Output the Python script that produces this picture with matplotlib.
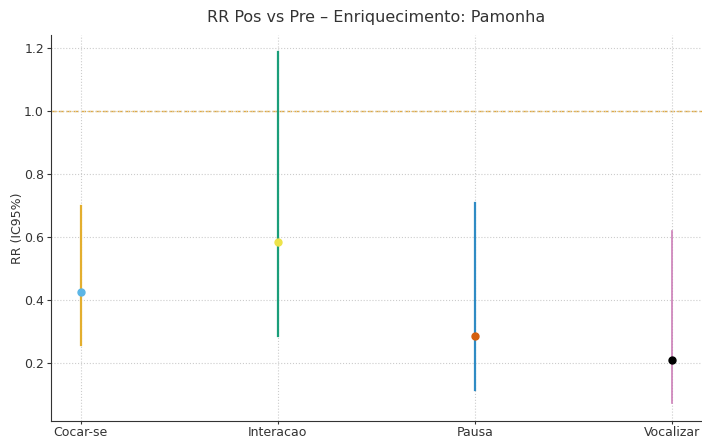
import matplotlib.pyplot as plt

# RR (IC95%) por comportamento
behaviors = ["Cocar-se", "Interacao", "Pausa", "Vocalizar"]
rr = [0.425, 0.584, 0.286, 0.210]
ci_low = [0.257, 0.287, 0.115, 0.073]
ci_high = [0.698, 1.187, 0.709, 0.620]

line_colors = ["#E3AE2E", "#1A9E7A", "#2F8BC4", "#CC7FB8"]
point_colors = ["#5CB6E6", "#EDE34A", "#D4600F", "#000000"]
line_widths = [1.6, 1.6, 1.6, 1.2]

fig = plt.figure(figsize=(7.02, 4.38), dpi=100)
ax = fig.add_axes([0.0726, 0.0388, 0.927, 0.882])

for i, b in enumerate(behaviors):
    ax.plot([i, i], [ci_low[i], ci_high[i]], color=line_colors[i], lw=line_widths[i], zorder=2)
    ax.plot(i, rr[i], "o", color=point_colors[i], ms=5, zorder=3)

ax.axhline(1.0, color="#E3A93A", ls="--", lw=1.0, zorder=1)

ax.set_xticks(range(len(behaviors)))
ax.set_xticklabels(behaviors)
ax.set_yticks([0.2, 0.4, 0.6, 0.8, 1.0, 1.2])
ax.tick_params(labelsize=9, colors="#333333", length=3, pad=2)
ax.tick_params(axis="x", length=2.5, pad=1)
ax.set_ylabel("RR (IC95%)", fontsize=9, color="#333333", labelpad=0)
ax.set_title("RR Pos vs Pre – Enriquecimento: Pamonha", fontsize=11.5, color="#333333", pad=9)
ax.grid(True, ls=":", color="#cccccc", lw=0.8, zorder=0)
ax.spines["top"].set_visible(False)
ax.spines["right"].set_visible(False)
ax.spines["left"].set_color("#333333")
ax.spines["bottom"].set_color("#333333")

fig.savefig("out.png", dpi=100)
